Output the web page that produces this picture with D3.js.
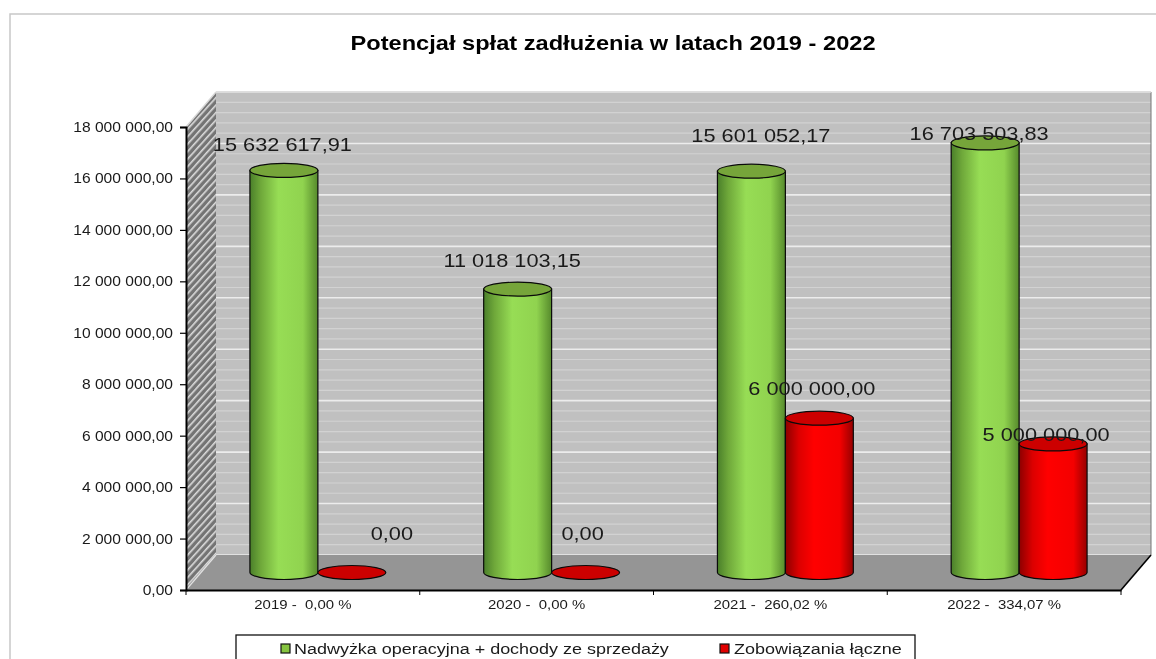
<!DOCTYPE html>
<html><head><meta charset="utf-8">
<script src="https://cdn.jsdelivr.net/npm/d3@7"></script>
<style>html,body{margin:0;padding:0;background:#fff;overflow:hidden}svg{display:block;filter:blur(0.4px)}text{font-family:"Liberation Sans",Arial,sans-serif;fill:#1a1a1a;white-space:pre}</style>
</head><body><svg id="c" width="1156" height="659"></svg>
<script>
const categories=["2019 -  0,00 %","2020 -  0,00 %","2021 -  260,02 %","2022 -  334,07 %"];
const surplus=[15632617.91,11018103.15,15601052.17,16703503.83];
const liabilities=[0,0,6000000,5000000];
const seriesNames=["Nadwyżka operacyjna + dochody ze sprzedaży","Zobowiązania łączne"];
const title="Potencjał spłat zadłużenia w latach 2019 - 2022";
const surplusLabelOffsets=[[-1.5,-19],[-5.5,-22],[9.5,-29],[-6,-3]];
const liabilityLabelOffsets=[[40,-33],[-3,-33],[-7.5,-23],[-7,-3]];

const svg=d3.select("#c");
const M={l:186,r:1121,t:127,b:590},dx=30,dy=-35;
const fmt=d3.formatLocale({decimal:",",thousands:" ",grouping:[3],currency:["",""]}).format(",.2f");
const y=d3.scaleLinear().domain([0,18000000]).range([M.b,M.t]);
const x0=d3.scaleBand().domain(categories).range([M.l,M.r]);
const x1=d3.scaleBand().domain([0,1]).range([0,x0.bandwidth()]).paddingInner(0).paddingOuter(0.72);
const defs=svg.append("defs");
function grad(id,stops){const g=defs.append("linearGradient").attr("id",id);
  stops.forEach(s=>g.append("stop").attr("offset",s[0]).attr("stop-color",s[1]));}
grad("gG",[[0,"#4a7f2a"],[.16,"#6fa83a"],[.42,"#97dd55"],[.78,"#90d34f"],[1,"#568a2c"]]);
grad("gR",[[0,"#8c0000"],[.2,"#dc0000"],[.42,"#ff0000"],[.8,"#f40000"],[1,"#960000"]]);
const hatch=defs.append("pattern").attr("id","hatch").attr("width",5).attr("height",5)
  .attr("patternUnits","userSpaceOnUse").attr("patternTransform","rotate(-48)");
hatch.append("rect").attr("width",5).attr("height",5).attr("fill","#747474");
hatch.append("rect").attr("width",5).attr("height",1.6).attr("fill","#dcdcdc");

// frame
svg.append("path").attr("d","M10,659V14H1156").attr("fill","none").attr("stroke","#c8c8c8").attr("stroke-width",1.5);
// title
svg.append("text").attr("transform","translate(613,50) scale(1.125,1)").attr("text-anchor","middle")
  .attr("font-size",21).attr("font-weight","bold").style("fill","#000").text(title);

const plot=svg.append("g");
// back wall
plot.append("rect").attr("x",M.l+dx).attr("y",M.t+dy).attr("width",M.r-M.l).attr("height",M.b-M.t).attr("fill","#c0c0c0");
const minor=d3.range(0,18000001,400000);
plot.selectAll(".mn").data(minor).join("line").attr("x1",M.l+dx).attr("x2",M.r+dx)
  .attr("y1",d=>y(d)+dy).attr("y2",d=>y(d)+dy)
  .attr("stroke",d=>d%2000000===0?"#ececec":"#d2d2d2").attr("stroke-width",d=>d%2000000===0?1.6:1.2);
plot.append("line").attr("x1",M.r+dx).attr("x2",M.r+dx).attr("y1",M.t+dy).attr("y2",M.b+dy).attr("stroke","#777").attr("stroke-width",1);
plot.append("line").attr("x1",M.l+dx).attr("x2",M.r+dx).attr("y1",M.t+dy).attr("y2",M.t+dy).attr("stroke","#d8d8d8").attr("stroke-width",1.5);
// side wall
plot.append("path").attr("d",`M${M.l},${M.b}L${M.l+dx},${M.b+dy}V${M.t+dy}L${M.l},${M.t}Z`).attr("fill","url(#hatch)");
plot.append("path").attr("d",`M${M.l},${M.t}L${M.l+dx},${M.t+dy}`).attr("stroke","#d8d8d8").attr("stroke-width",1.5);
// floor
plot.append("path").attr("d",`M${M.l},${M.b}L${M.l+dx},${M.b+dy}H${M.r+dx}L${M.r},${M.b}Z`).attr("fill","#959595");
plot.append("path").attr("d",`M${M.l},${M.b}L${M.l+dx},${M.b+dy}`).attr("stroke","#e0e0e0").attr("stroke-width",1.2);
plot.append("path").attr("d",`M${M.r},${M.b}L${M.r+dx},${M.b+dy}`).attr("stroke","#000").attr("stroke-width",1.6);

// cylinders
const ry=7,baseLift=dy/2;
function cyl(cat,i,v,fill,top){
  const w=x1.bandwidth(),xl=x0(cat)+x1(i)+dx/2,xr=xl+w,cx=xl+w/2;
  const yb=M.b+baseLift,yt=y(v)+baseLift;
  const g=plot.append("g").attr("stroke","#0a0a0a").attr("stroke-width",1.2);
  if(v>0){
    g.append("path").attr("d",`M${xl},${yt}V${yb}A${w/2},${ry} 0 0 0 ${xr},${yb}V${yt}Z`).attr("fill",fill);
  }
  g.append("ellipse").attr("cx",cx).attr("cy",yt).attr("rx",w/2).attr("ry",ry).attr("fill",top);
}
categories.forEach((c,k)=>{
  cyl(c,0,surplus[k],"url(#gG)","#76a53a");
  cyl(c,1,liabilities[k],"url(#gR)","#cc0000");
});
// labels
function lab(cat,i,v,off){
  const w=x1.bandwidth(),cx=x0(cat)+x1(i)+dx/2+w/2,yt=y(v)+baseLift;
  plot.append("text").attr("transform",`translate(${cx+off[0]},${yt+off[1]}) scale(1.17,1)`)
    .attr("text-anchor","middle").attr("font-size",18.6).text(fmt(v));
}
categories.forEach((c,k)=>{lab(c,0,surplus[k],surplusLabelOffsets[k]);lab(c,1,liabilities[k],liabilityLabelOffsets[k]);});

// axes
const ya=svg.append("g").attr("transform",`translate(${M.l},0)`).call(d3.axisLeft(y).tickValues(d3.range(0,18000001,2000000)).tickFormat(fmt).tickSize(6));
ya.selectAll("text").attr("x",0).attr("transform","translate(-13,0) scale(1.115,1)").attr("font-size",14).attr("font-family",null).attr("fill",null);
const xa=svg.append("g").attr("transform",`translate(0,${M.b})`).call(d3.axisBottom(x0).tickSize(0));
xa.selectAll("text").attr("y",0).attr("dy",null).attr("transform","translate(0,19) scale(1.15,1)").attr("font-size",13).attr("fill",null);
xa.selectAll(".bt").data(d3.range(0,categories.length+1)).join("line").attr("class","bt")
  .attr("x1",i=>M.l+i*x0.step()).attr("x2",i=>M.l+i*x0.step()).attr("y1",0).attr("y2",5).attr("stroke","#000");
svg.selectAll(".domain").attr("stroke","#000").attr("stroke-width",2);
svg.selectAll(".tick line").attr("stroke","#000").attr("stroke-width",1.2);

// legend
svg.append("rect").attr("x",236).attr("y",635).attr("width",679).attr("height",40).attr("fill","#fff").attr("stroke","#111").attr("stroke-width",1.3);
const lx=[281,720],tx=[294,734],lc=["#86c440","#e00000"];
seriesNames.forEach((s,i)=>{
  svg.append("rect").attr("x",lx[i]).attr("y",644).attr("width",9).attr("height",9).attr("fill",lc[i]).attr("stroke","#111").attr("stroke-width",1.2);
  svg.append("text").attr("transform",`translate(${tx[i]},654) scale(1.16,1)`).attr("font-size",15.5).text(s);
});
</script></body></html>
